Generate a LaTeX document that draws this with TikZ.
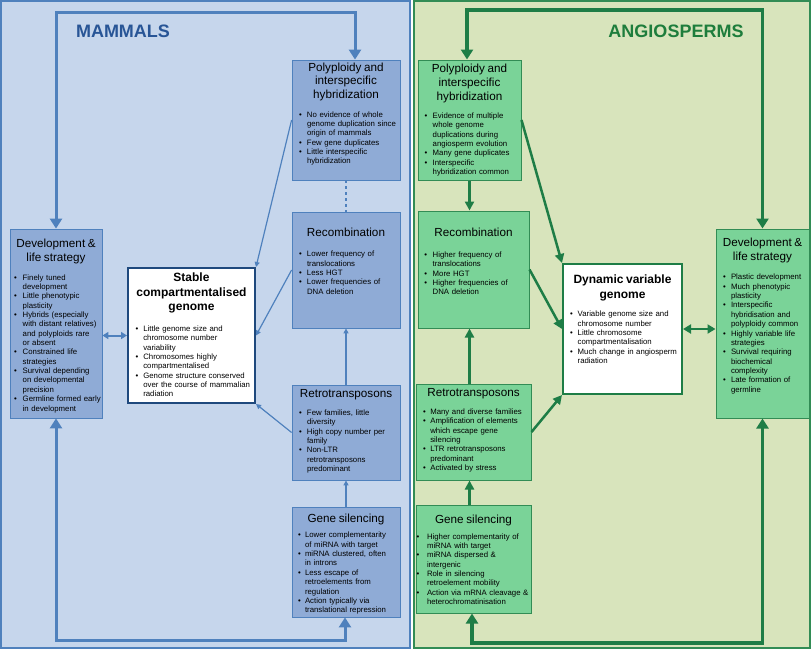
\documentclass[tikz,border=0pt]{standalone}
\usepackage{fontspec}
\setmainfont{Liberation Sans}
\usetikzlibrary{arrows.meta, positioning}

\definecolor{mback}{RGB}{198,214,236}
\definecolor{mline}{RGB}{79,129,189}
\definecolor{mfill}{RGB}{143,171,214}
\definecolor{mdark}{RGB}{31,73,125}
\definecolor{mhead}{RGB}{40,85,150}
\definecolor{aback}{RGB}{216,228,188}
\definecolor{afill}{RGB}{122,211,152}
\definecolor{aedge}{RGB}{50,140,85}
\definecolor{aline}{RGB}{30,125,70}
\definecolor{ahead}{RGB}{30,125,60}

\newlength{\bulx}\setlength{\bulx}{7pt}
\newlength{\txtx}\setlength{\txtx}{15pt}
% box heading, then extra space before the bullets
\newcommand{\hd}[2]{{\centering\fontsize{11.7}{13.8}\selectfont #1\par}\vspace{#2pt}}
\newcommand{\hdb}[2]{{\centering\fontsize{12}{14.6}\selectfont\bfseries #1\par}\vspace{#2pt}}
% one bullet point (hanging lines)
\newcommand{\bi}[1]{\par{\hangindent=\txtx\hangafter=1\rightskip=-15pt plus 1fil%
  \noindent\makebox[\txtx][l]{\hspace*{\bulx}\textbullet}\let\\\newline #1\par}}

\begin{document}
\begin{tikzpicture}[x=1pt, y=-1pt,
                mbox/.style = {draw=mline, fill=mfill, line width=0.8pt, inner sep=0pt},
                abox/.style = {draw=aedge, fill=afill, line width=1pt, inner sep=0pt},
                core/.style = {fill=white, line width=2pt, inner sep=0pt},
                txt/.style = {inner sep=0pt, font=\fontsize{7.8}{9.35}\selectfont},
                marr/.style = {draw=mline, line width=1.2pt, -{Triangle[length=5pt,width=5pt]}},
                mdbl/.style = {draw=mline, line width=2pt, {Triangle[length=6pt,width=7pt]}-{Triangle[length=6pt,width=7pt]}},
                mloop/.style = {draw=mline, line width=3pt, {Triangle[length=10pt,width=12pt]}-{Triangle[length=10pt,width=12pt]}},
                aarr/.style = {draw=aline, line width=2.5pt, -{Triangle[length=9pt,width=9pt]}},
                adbl/.style = {draw=aline, line width=2.5pt, {Triangle[length=8pt,width=9pt]}-{Triangle[length=8pt,width=9pt]}},
                aloop/.style = {draw=aline, line width=3.5pt, {Triangle[length=10pt,width=12pt]}-{Triangle[length=10pt,width=12pt]}},
            ]
            \useasboundingbox (0,0) rectangle (811,649);

            % the two panels
            \filldraw[fill=mback, draw=mline, line width=1.5pt] (1,1) rectangle (410,648);
            \filldraw[fill=aback, draw=aedge, line width=1.5pt] (414,1) rectangle (810,648);
            \node (mtitle) [font=\fontsize{18}{20}\selectfont\bfseries, text=mhead] at (123,31) {MAMMALS};
            \node (atitle) [font=\fontsize{18}{20}\selectfont\bfseries, text=ahead] at (676,31) {ANGIOSPERMS};

            % mammals
            \node (devm) [mbox, minimum width=92pt, minimum height=189pt] at (56,323.5) {};
            \node (stab) [core, draw=mdark, minimum width=127pt, minimum height=135pt] at (191.5,335.5) {};
            \node (polym) [mbox, minimum width=108pt, minimum height=120pt] at (346,120) {};
            \node (recm) [mbox, minimum width=108pt, minimum height=116pt] at (346,270) {};
            \node (retm) [mbox, minimum width=108pt, minimum height=95pt] at (346,432.5) {};
            \node (genm) [mbox, minimum width=108pt, minimum height=110pt] at (346,562) {};

            \node (devmt) [txt, text width=92pt, below=10.5pt of devm.north] {\setlength{\bulx}{4pt}\setlength{\txtx}{12.7pt}%
                \hd{Development \&\\life strategy}{9.2}
                \bi{Finely tuned\\development}
                \bi{Little phenotypic\\plasticity}
                \bi{Hybrids (especially\\with distant relatives)\\and polyploids rare\\or absent}
                \bi{Constrained life\\strategies}
                \bi{Survival depending\\on developmental\\precision}
                \bi{Germline formed early\\in development}};
            \node (stabt) [txt, text width=127pt, below=5.6pt of stab.north] {\setlength{\bulx}{7.7pt}\setlength{\txtx}{15.3pt}%
                \hdb{Stable\\compartmentalised\\genome}{11.4}
                \bi{Little genome size and\\chromosome number\\variability}
                \bi{Chromosomes highly\\compartmentalised}
                \bi{Genome structure conserved\\over the course of mammalian\\radiation}};
            \node (polymt) [txt, text width=108pt, below=2.8pt of polym.north] {%
                \hd{Polyploidy and\\interspecific\\hybridization}{9.1}
                \bi{No evidence of whole\\genome duplication since\\origin of mammals}
                \bi{Few gene duplicates}
                \bi{Little interspecific\\hybridization}};
            \node (recmt) [txt, text width=108pt, below=16.5pt of recm.north] {%
                \hd{Recombination}{10.8}
                \bi{Lower frequency of\\translocations}
                \bi{Less HGT}
                \bi{Lower frequencies of\\DNA deletion}};
            \node (retmt) [txt, text width=108pt, below=4.2pt of retm.north] {%
                \hd{Retrotransposons}{9.1}
                \bi{Few families, little\\diversity}
                \bi{High copy number per\\family}
                \bi{Non-LTR\\retrotransposons\\predominant}};
            \node (genmt) [txt, text width=108pt, below=7.5pt of genm.north] {\setlength{\bulx}{6pt}\setlength{\txtx}{13pt}%
                \hd{Gene silencing}{5.8}
                \bi{Lower complementarity\\of miRNA with target}
                \bi{miRNA clustered, often\\in introns}
                \bi{Less escape of\\retroelements from\\regulation}
                \bi{Action typically via\\translational repression}};

            \coordinate (mtop) at (355,12);
            \coordinate (mbot) at (345,640);
            \path[mloop] (devm.north) |- (mtop) -- (mtop |- polym.north);
            \path[mloop] (devm.south) |- (mbot) -- (mbot |- genm.south);
            \path[mdbl] (stab.west) -- (stab.west -| devm.east);
            \path[marr] (polym.west) -- (stab.north east);
            \path[marr] (recm.west) -- (stab.east);
            \path[marr] (retm.west) -- (stab.south east);
            \path[marr, dashed, -] (polym.south) -- (recm.north);
            \path[marr] (retm.north) -- (recm.south);
            \path[marr] (genm.north) -- (retm.south);

            % angiosperms
            \node (polya) [abox, minimum width=103pt, minimum height=120pt] at (469.5,120) {};
            \node (reca) [abox, minimum width=111pt, minimum height=117pt] at (473.5,269.5) {};
            \node (reta) [abox, minimum width=115pt, minimum height=96pt] at (473.5,432) {};
            \node (gena) [abox, minimum width=115pt, minimum height=108pt] at (473.5,559) {};
            \node (dyn) [core, draw=aline, minimum width=119pt, minimum height=130pt] at (622.5,329) {};
            \node (deva) [abox, minimum width=93pt, minimum height=189pt] at (762.5,323.5) {};

            \node (polyat) [txt, text width=103pt, below=4.5pt of polya.north] {\setlength{\bulx}{6.7pt}\setlength{\txtx}{14.7pt}%
                \hd{Polyploidy and\\interspecific\\hybridization}{8.8}
                \bi{Evidence of multiple\\whole genome\\duplications during\\angiosperm evolution}
                \bi{Many gene duplicates}
                \bi{Interspecific\\hybridization common}};
            \node (recat) [txt, text width=111pt, below=17.8pt of reca.north] {\setlength{\bulx}{6.3pt}\setlength{\txtx}{14.7pt}%
                \hd{Recombination}{11.2}
                \bi{Higher frequency of\\translocations}
                \bi{More HGT}
                \bi{Higher frequencies of\\DNA deletion}};
            \node (retat) [txt, text width=115pt, below=4.5pt of reta.north] {\setlength{\txtx}{14.3pt}%
                \hd{Retrotransposons}{8.8}
                \bi{Many and diverse families}
                \bi{Amplification of elements\\which escape gene\\silencing}
                \bi{LTR retrotransposons\\predominant}
                \bi{Activated by stress}};
            \node (genat) [txt, text width=115pt, below=10.2pt of gena.north] {\setlength{\bulx}{0.5pt}\setlength{\txtx}{11pt}%
                \hd{Gene silencing}{6.4}
                \bi{Higher complementarity of\\miRNA with target}
                \bi{miRNA dispersed \&\\intergenic}
                \bi{Role in silencing\\retroelement mobility}
                \bi{Action via mRNA cleavage \&\\heterochromatinisation}};
            \node (dynt) [txt, text width=119pt, below=12pt of dyn.north] {\setlength{\txtx}{14.7pt}%
                \hdb{Dynamic variable\\genome}{8.8}
                \bi{Variable genome size and\\chromosome number}
                \bi{Little chromosome\\compartmentalisation}
                \bi{Much change in angiosperm\\radiation}};
            \node (devat) [txt, text width=93pt, below=9.8pt of deva.north] {%
                \hd{Development \&\\life strategy}{9.8}
                \bi{Plastic development}
                \bi{Much phenotypic\\plasticity}
                \bi{Interspecific\\hybridisation and\\polyploidy common}
                \bi{Highly variable life\\strategies}
                \bi{Survival requiring\\biochemical\\complexity}
                \bi{Late formation of\\germline}};

            \coordinate (atop) at (467,10);
            \coordinate (abot) at (472,643);
            \path[aloop] (deva.north) |- (atop) -- (atop |- polya.north);
            \path[aloop] (deva.south) |- (abot) -- (abot |- gena.south);
            \path[adbl] (dyn.east) -- (dyn.east -| deva.west);
            \path[aarr] (polya.south) -- (polya.south |- reca.north);
            \path[aarr] (reta.north -| polya.south) -- (reca.south -| polya.south);
            \path[aarr] (gena.north -| polya.south) -- (reta.south -| polya.south);
            \path[aarr] (polya.east) -- (dyn.north west);
            \path[aarr] (reca.east) -- (dyn.west);
            \path[aarr] (reta.east) -- (dyn.south west);
        \end{tikzpicture}
\end{document}
